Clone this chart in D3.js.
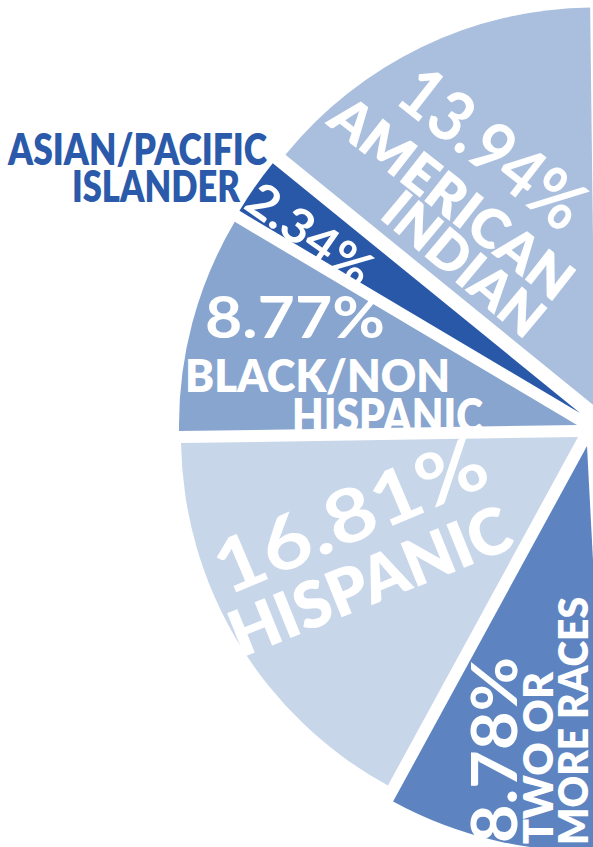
<!DOCTYPE html>
<html>
<head>
<meta charset="utf-8">
<script src="https://cdn.jsdelivr.net/npm/d3@7"></script>
<style>
  html, body { margin: 0; padding: 0; background: #fff; }
  svg { display: block; }
  text { font-family: Lato, "Open Sans", sans-serif; }
</style>
</head>
<body>
<svg id="chart"></svg>
<script>
// slices shown in the picture, clockwise from the bottom
const categories = ['Two or More Races', 'Hispanic', 'Black/Non Hispanic', 'Asian/Pacific Islander', 'American Indian'];
const shares = [8.78, 16.81, 8.77, 2.34, 13.94];
const sliceLines = [['TWO OR', 'MORE RACES'], ['HISPANIC'], ['BLACK/NON', 'HISPANIC'], [], ['AMERICAN', 'INDIAN']];
const outsideLines = ['ASIAN/PACIFIC', 'ISLANDER'];

const colors = ['#5d84c0', '#c8d6ea', '#87a5cf', '#2858a7', '#a9bfdd'];
// pulled-apart look: each wedge is nudged off the common centre
const nudgeX = [-6, -15, -16, -13, 2];
const nudgeY = [17, 8, -4, -16, -22.5];
const radii = [405, 397, 398, 396, 399];

const width = 593, height = 847;
const cx = 593, cy = 429;

const svg = d3.select('#chart')
    .attr('width', width)
    .attr('height', height);

const pct = v => d3.format('.2f')(v) + '%';

// only the non-white half is in view, so the pie spans the visible share of 360deg
const start = 177 * Math.PI / 180;
const total = d3.sum(shares);
const pie = d3.pie()
    .sort(null)
    .value(d => d)
    .startAngle(start)
    .endAngle(start + 2 * Math.PI * total / 100);

const arc = d3.arc().innerRadius(0).outerRadius((d, i) => radii[i]);

svg.append('g').selectAll('path')
    .data(pie(shares))
    .join('path')
    .attr('transform', (d, i) => `translate(${cx + nudgeX[i]}, ${cy + nudgeY[i]})`)
    .attr('d', (d, i) => arc(d, i))
    .attr('fill', (d, i) => colors[i]);

// label placement (x, y = centre of caps for rotated ones, baseline start for others)
const labels = [
    // American Indian
    { t: pct(shares[4]), x: 493, y: 148, r: 38, fs: 70, len: 216, w: 700, mid: true },
    { t: sliceLines[4][0], x: 452, y: 198, r: 38, fs: 54, len: 292, w: 800, mid: true },
    { t: sliceLines[4][1], x: 464, y: 264, r: 40, fs: 54, len: 192, w: 800, mid: true },
    // Asian / Pacific Islander
    { t: pct(shares[3]), x: 310, y: 234, r: 35, fs: 48, len: 142, w: 700, mid: true },
    { t: outsideLines[0], x: 8, y: 165, r: 0, fs: 44, len: 259, w: 800, fill: '#2a5aa9' },
    { t: outsideLines[1], x: 72, y: 202, r: 0, fs: 44, len: 168, w: 800, fill: '#2a5aa9' },
    // Black / Non Hispanic
    { t: pct(shares[2]), x: 205, y: 338, r: 0, fs: 58, len: 180, w: 700 },
    { t: sliceLines[2][0], x: 185, y: 392, r: 0, fs: 46, len: 265, w: 800 },
    { t: sliceLines[2][1], x: 292, y: 433, r: 0, fs: 48, len: 191, w: 800 },
    // Hispanic
    { t: pct(shares[1]), x: 350, y: 515, r: -23, fs: 74, len: 290, w: 700, mid: true },
    { t: sliceLines[1][0], x: 370, y: 581, r: -22, fs: 64, len: 298, w: 800, mid: true },
    // Two or more races
    { t: pct(shares[0]), x: 517, y: 843, r: -90, fs: 64, len: 186, w: 700 },
    { t: sliceLines[0][0], x: 553, y: 844, r: -90, fs: 42, len: 172, w: 800 },
    { t: sliceLines[0][1], x: 588, y: 845, r: -90, fs: 42, len: 248, w: 800 }
];

svg.append('g').selectAll('text')
    .data(labels)
    .join('text')
    .attr('transform', d => `translate(${d.x}, ${d.y}) rotate(${d.r})`)
    .attr('y', d => d.mid ? d.fs * 0.36 : 0)
    .attr('text-anchor', d => d.mid ? 'middle' : 'start')
    .attr('font-size', d => d.fs)
    .attr('font-weight', d => d.w)
    .attr('textLength', d => d.len)
    .attr('lengthAdjust', 'spacingAndGlyphs')
    .attr('fill', d => d.fill || '#fff')
    .text(d => d.t);
</script>
</body>
</html>
